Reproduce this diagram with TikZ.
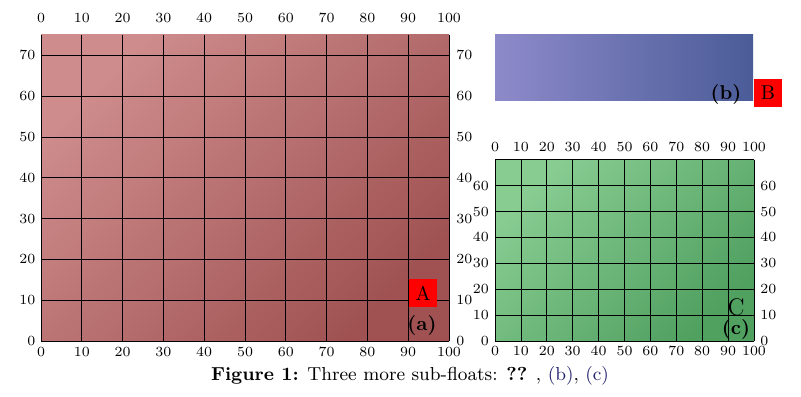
\documentclass[tikz,border=0pt]{standalone}
\usepackage{tikz}
\usetikzlibrary{positioning}
\definecolor{redlight}{RGB}{206,140,140}
\definecolor{reddark}{RGB}{160,82,82}
\definecolor{bluelight}{RGB}{142,138,202}
\definecolor{bluedark}{RGB}{74,92,152}
\definecolor{greenlight}{RGB}{136,204,146}
\definecolor{greendark}{RGB}{80,160,96}
\definecolor{linkblue}{RGB}{36,36,112}

\begin{document}
\begin{tikzpicture}[x=0.5pt,y=0.5pt,
  tick/.style={font=\scriptsize,inner sep=1pt},
  tag/.style={fill=red,minimum size=14pt,inner sep=0pt},
  sub/.style={font=\bfseries,inner sep=0pt},
  panel/.style={shading angle=45}]
\useasboundingbox (0,0) rectangle (801,396);
% (a)
\begin{scope}[shift={(41,55)},scale=4.08]
\shade[top color=redlight,bottom color=reddark,panel] (0,0) rectangle (100,75);
\draw[thin,step=10] (0,0) grid (100,75);
\foreach \v in {0,10,...,100} {
  \node[tick] (a-top\v) at (\v,79.2) {\v};
  \node[tick] (a-bot\v) at (\v,-2.7) {\v};
}
\foreach \v in {0,10,...,70} {
  \node[tick,anchor=east] (a-lft\v) at (-0.8,\v) {\v};
  \node[tick,anchor=west] (a-rgt\v) at (101.2,\v) {\v};
}
\end{scope}
\node[sub] (lbl-a) at (422,71) {(a)};
\node[tag] (tag-a) at (423,103) {A};
% (b)
\shade[left color=bluelight,right color=bluedark] (495,295) rectangle (753,361);
\node[sub] (lbl-b) at (726,302) {(b)};
\node[tag] (tag-b) at (768,303) {B};
% (c)
\begin{scope}[shift={(495,55)},scale=2.59]
\shade[top color=greenlight,bottom color=greendark,panel] (0,0) rectangle (100,70);
\draw[thin,step=10] (0,0) grid (100,70);
\foreach \v in {0,10,...,100} {
  \node[tick] (c-top\v) at (\v,74.9) {\v};
  \node[tick] (c-bot\v) at (\v,-3.9) {\v};
}
\foreach \v in {0,10,...,60} {
  \node[tick,anchor=east] (c-lft\v) at (-1.5,\v) {\v};
  \node[tick,anchor=west] (c-rgt\v) at (101.5,\v) {\v};
}
\end{scope}
\node[sub] (lbl-c) at (736,67) {(c)};
\node[inner sep=0pt,font=\large] (tag-c) at (736,89) {C};
% caption
\node[font=\fontsize{9.4}{11}\selectfont] (caption) at (410,20)
  {\textbf{Figure 1:} Three more sub-floats: \textbf{??} ,
   \textcolor{linkblue}{(b)}, \textcolor{linkblue}{(c)}};
\end{tikzpicture}
\end{document}
